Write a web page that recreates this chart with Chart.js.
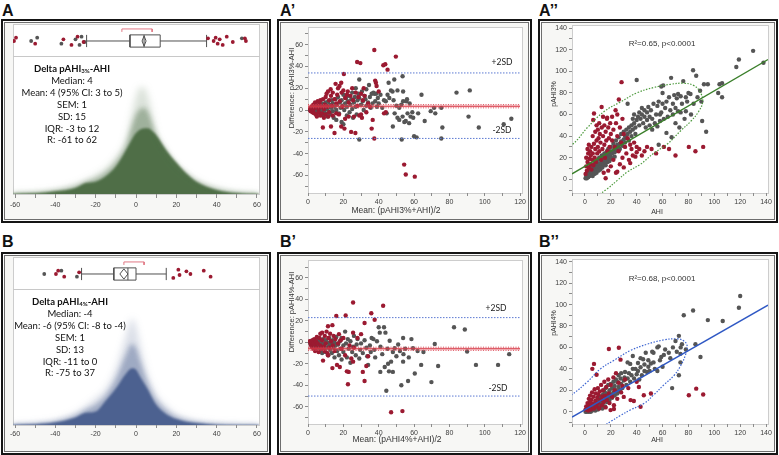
<!DOCTYPE html>
<html>
<head>
<meta charset="utf-8">
<script src="https://cdn.jsdelivr.net/npm/chart.js@4.4.1/dist/chart.umd.min.js"></script>
<style>
body{margin:0;width:779px;height:455px;position:relative;overflow:hidden;background:#fff;font-family:"Liberation Sans",Arial,sans-serif;color:#222;}
.panel{position:absolute;box-sizing:border-box;border:2px solid #151515;background:#f7f7f5;box-shadow:inset 0 0 0 1px #fdfdfd,inset 0 0 0 2px #6e6e6e;}
.plot{position:absolute;box-sizing:border-box;border:1px solid #cdcdcd;background:#fff;}
.rule{position:absolute;height:1px;background:#c8c8c8;}
canvas{position:absolute;z-index:1;}
.lbl{position:absolute;z-index:2;font:bold 16px/16px "Liberation Sans",Arial,sans-serif;color:#111;white-space:nowrap;}
.c,.r{position:absolute;z-index:2;white-space:nowrap;color:#333;font-family:"Liberation Sans",Arial,sans-serif;}
.c{transform:translate(-50%,-50%);}
.r{transform:translate(-50%,-50%) rotate(-90deg);}
.stats{position:absolute;z-index:2;width:130px;text-align:center;font:9.5px/11.9px Lato,"Open Sans",sans-serif;color:#111;}
.stats sub{font-size:6px;line-height:0;vertical-align:-1px;}
.sd{font-family:Lato,"Open Sans",sans-serif;font-size:8.5px;color:#222;}
</style>
</head>
<body>

<div class="lbl" style="left:2px;top:3px">A</div>
<div class="lbl" style="left:280px;top:3px">A’</div>
<div class="lbl" style="left:539px;top:3px">A’’</div>
<div class="lbl" style="left:2px;top:234px">B</div>
<div class="lbl" style="left:280px;top:234px">B’</div>
<div class="lbl" style="left:539px;top:234px">B’’</div>

<div class="panel" style="left:1px;top:19px;width:270px;height:204px"></div>
<div class="panel" style="left:277px;top:19px;width:255px;height:204px"></div>
<div class="panel" style="left:538px;top:19px;width:240px;height:204px"></div>
<div class="panel" style="left:1px;top:252px;width:270px;height:203px"></div>
<div class="panel" style="left:277px;top:252px;width:255px;height:203px"></div>
<div class="panel" style="left:538px;top:252px;width:240px;height:203px"></div>

<div class="plot" style="left:13px;top:24px;width:247px;height:171px"></div>
<div class="rule" style="left:13px;top:56px;width:247px"></div>
<div class="plot" style="left:308px;top:27px;width:215px;height:167px"></div>
<div class="plot" style="left:572px;top:25px;width:197px;height:169px"></div>
<div class="plot" style="left:13px;top:257px;width:247px;height:169px"></div>
<div class="rule" style="left:13px;top:289px;width:247px"></div>
<div class="plot" style="left:308px;top:260px;width:215px;height:165px"></div>
<div class="plot" style="left:572px;top:259px;width:197px;height:166px"></div>

<div class="stats" style="left:7px;top:63px">
<b>Delta pAHI<sub>3%</sub>-AHI</b><br>Median: 4<br>Mean: 4 (95% CI: 3 to 5)<br>SEM: 1<br>SD: 15<br>IQR: -3 to 12<br>R: -61 to 62
</div>
<div class="stats" style="left:5px;top:296px">
<b>Delta pAHI<sub>4%</sub>-AHI</b><br>Median: -4<br>Mean: -6 (95% CI: -8 to -4)<br>SEM: 1<br>SD: 13<br>IQR: -11 to 0<br>R: -75 to 37
</div>

<div class="c" style="left:396px;top:210px;font-size:8.5px">Mean: (pAHI3%+AHI)/2</div>
<div class="r" style="left:291px;top:88px;font-size:7.5px">Difference: pAHI3%-AHI</div>
<div class="c sd" style="left:502px;top:62px">+2SD</div>
<div class="c sd" style="left:502px;top:130px">-2SD</div>
<div class="c" style="left:657px;top:211px;font-size:7px">AHI</div>
<div class="r" style="left:553px;top:94px;font-size:7px">pAHI3%</div>
<div class="c" style="left:662px;top:43px;font-size:8px">R²=0.65, p&lt;0.0001</div>

<div class="c" style="left:397px;top:439px;font-size:8.5px">Mean: (pAHI4%+AHI)/2</div>
<div class="r" style="left:291px;top:312px;font-size:7.5px">Difference: pAHI4%-AHI</div>
<div class="c sd" style="left:496px;top:308px">+2SD</div>
<div class="c sd" style="left:498px;top:388px">-2SD</div>
<div class="c" style="left:657px;top:439px;font-size:7px">AHI</div>
<div class="r" style="left:553px;top:323px;font-size:7px">pAHI4%</div>
<div class="c" style="left:662px;top:278px;font-size:8px">R²=0.68, p&lt;0.0001</div>

<script>
// density of the differences (relative height), panels A and B
const densX = [-61, -50, -40, -30, -25, -20, -15, -10, -5, -2, 0, 2, 4, 6, 8, 10, 15, 20, 25, 30, 40, 50, 61];
const densA_outer = [0.006, 0.012, 0.03, 0.07, 0.10, 0.14, 0.19, 0.27, 0.40, 0.59, 0.71, 0.78, 0.78, 0.71, 0.59, 0.45, 0.31, 0.21, 0.15, 0.10, 0.044, 0.015, 0.004];
const densA_mid = [0.004, 0.009, 0.025, 0.057, 0.09, 0.115, 0.16, 0.235, 0.36, 0.50, 0.58, 0.62, 0.63, 0.60, 0.52, 0.44, 0.315, 0.22, 0.15, 0.095, 0.037, 0.011, 0.002];
const densA_core = [0.002, 0.005, 0.02, 0.044, 0.08, 0.09, 0.13, 0.20, 0.32, 0.40, 0.445, 0.47, 0.48, 0.48, 0.46, 0.43, 0.32, 0.23, 0.15, 0.09, 0.03, 0.007, 0];
const densB_outer = [0.006, 0.015, 0.036, 0.09, 0.14, 0.20, 0.27, 0.42, 0.66, 0.79, 0.73, 0.60, 0.47, 0.36, 0.29, 0.225, 0.14, 0.08, 0.05, 0.03, 0.012, 0.005, 0];
const densB_mid = [0.004, 0.01, 0.028, 0.072, 0.115, 0.15, 0.22, 0.34, 0.52, 0.60, 0.57, 0.48, 0.39, 0.31, 0.245, 0.19, 0.11, 0.062, 0.037, 0.022, 0.007, 0.002, 0];
const densB_core = [0.002, 0.006, 0.02, 0.056, 0.09, 0.10, 0.18, 0.27, 0.38, 0.42, 0.41, 0.36, 0.31, 0.26, 0.20, 0.15, 0.08, 0.044, 0.025, 0.015, 0.002, 0, 0];

// box plots: whisker low, Q1, median, Q3, whisker high / mean CI / shortest half / outliers
const boxA = [-24.5, -3, 4, 12, 35];
const meanA = [3, 4, 5];
const halfA = [-7, 8];
const stripAGray = [-52, -49, -37, -30, -28, -27, -25.5, 52.5];
const stripARed = [-60.5, -59.5, -50, -36, -32, -29, -26, 35.7, 38.5, 39.5, 40.5, 41.5, 43, 45, 48, 54, 54.5];
const boxB = [-27, -11, -4, 0, 15];
const meanB = [-8, -6, -4];
const halfB = [-6, 4];
const stripBGray = [-45.5, -37, -29.3];
const stripBRed = [-39.7, -38.6, -35.6, -28.2, 18.5, 21, 21.6, 25, 27, 33.6, 37];

// Bland-Altman: limits [-2SD, +2SD], bias [CI low, mean, CI high]
const limitsA = [-26, 34];
const biasA = [2, 3.5, 5];
const limitsB = [-50, 23];
const biasB = [-7.5, -6, -4.5];

const baGrayA = [[1,0],[1.5,1],[2,-1],[2,2],[2.5,0],[3,1],[3,-2],[3.5,3],[4,0],[4,-3],[4.5,2],[5,-1],[5,4],[5.5,1],[6,-2],[6,3],[6.5,0],[7,-4],[7,5],[7.5,2],[8,-1],[8,6],[8.5,-5],[9,3],[9.5,0],[10,-3],[10,7],[10.5,4],[11,-6],[11,1],[11.5,8],[12,-2],[12,5],[12.5,-4],[13,2],[13.5,9],[14,-1],[14,6],[14.5,-7],[15,3],[15.5,10],[16,0],[16,-9],[16.5,5],[17,12],[17.5,-3],[18,7],[18.5,2],[19,-11],[19,9],[19.5,4],[20,-13],[20,14],[20.5,0],[21,6],[21.5,11],[22,-5],[22,3],[22.5,8],[23,13],[23.5,-2],[24,5],[24.5,10],[25,1],[25,16],[25.5,-7],[26,7],[26.5,12],[27,3],[27,20],[27.5,-4],[28,9],[28.5,15],[29,28],[29,-27],[29,11],[30,5],[30.5,17],[31,8],[31.5,0],[32,13],[32.5,10],[33,4],[33,19],[34,7],[34.5,23],[35,12],[35.5,2],[36,15],[36.5,6],[37,16],[37.5,15],[38,8],[38.5,15],[39,3],[39.5,11],[40,6],[41,14],[42,2],[43,9],[44,8],[44.5,-3],[45,14],[45.6,25],[46,11],[46.9,18],[47.8,17],[48,-15],[48.4,9],[48.8,28],[49,-3],[50,4],[50.6,18],[50.6,-7],[51.6,-9],[51.6,2],[52.8,5],[53,-27],[53.5,31],[53.5,-6],[53.8,8],[53.8,17],[54.5,-11],[55.3,-10],[55.6,8],[56,10],[56.3,-3],[57.2,-12],[57.5,6],[58,-6],[59,-2],[59.5,-7],[60,-24],[61.4,-25],[62.3,-3],[64.2,14],[66,-10],[69.4,-1],[71.3,2],[72,-3],[75.4,2],[75.4,-26],[76,-16],[84,16],[90.8,-6],[91.5,18],[96.6,-16],[110.7,-13],[115,-8]];
const baRedA = [[1,1],[1.5,-1],[2,3],[2.5,-2],[3,0],[3,5],[3.5,-3],[4,2],[4,7],[4.5,-4],[5,4],[5,-6],[5.5,8],[6,1],[6,-2],[6.5,6],[7,-5],[7,9],[7.5,3],[8,-3],[8.4,-16],[8.5,10],[9,1],[9,-7],[9.5,5],[10,12],[10,-4],[10.5,15],[11,3],[11.3,17],[11.5,-6],[12,9],[12,-2],[12.8,19],[13,-15],[13,13],[13.5,4],[14,16],[14,-5],[15,-21],[15,10],[15.6,24],[16,6],[16,-3],[16.5,14],[17,20],[17.5,-4],[17.8,22],[18,8],[18.8,25],[18.8,-15],[19,16],[19.5,3],[20,18],[20.3,33],[20.6,-17],[21,11],[21,-8],[22,14],[22.5,17],[23,7],[23,-6],[24,13],[24.4,-20],[25,20],[25.5,9],[26,-6],[26.8,-21],[27,16],[27.8,44],[28,4],[28.5,12],[29,-5],[29.6,43],[30,-4],[30,15],[30.5,-7],[31,9],[31.5,20],[32,13],[33,-2],[34,6],[35,3],[36,-17],[36.6,-9],[37.5,55],[37.5,-26],[38,27],[38.4,25],[38.8,22],[40,17],[42.6,41],[43,-3],[43.7,42],[44,-2],[45,37],[49.7,49],[54.4,-50],[55.3,-59],[60.4,-61]];

const baGrayB = [[1,0],[1.5,-1],[2,1],[2.5,-2],[3,0],[3,-4],[3.5,2],[4,-1],[4,-6],[4.5,1],[5,-3],[5.5,0],[6,-5],[6,2],[6.5,-2],[7,-8],[7,1],[7.5,-4],[8,-1],[8,-10],[8.5,3],[9,-6],[9.5,-2],[10,-9],[10,2],[10.5,-5],[11,0],[11.5,-12],[12,-3],[12,4],[12.5,-7],[13,-1],[13.5,-10],[14,2],[14.5,-5],[15,-14],[15,0],[15.5,-3],[16,5],[16.5,-8],[17,-2],[17.5,-12],[18,1],[18.5,-6],[19,-16],[19,4],[20,-3],[20,-9],[21,10],[21.5,-1],[22,-14],[22.5,3],[23,-6],[24,-19],[24,1],[25,-9],[25.5,-4],[26,6],[27,-12],[27.5,-2],[28,3],[29,-15],[29.5,-7],[30,-1],[31,-10],[32,2],[33,-5],[33.5,-13],[34,-21],[35,-3],[35.5,-9],[36,4],[37,3],[37.5,-7],[38,-14],[39,1],[40,14],[40.6,9],[40.9,-27.5],[41,-4],[42,-11],[43,14],[43.4,-23],[43.8,9],[44.3,-45],[45,-6],[45.3,-20],[45.8,-27],[46.2,1.5],[47,-18],[48,-27.5],[48,-9],[49,-5.5],[50,-13],[51,-2],[52,-8],[52.8,-40],[53.8,4],[53.8,-18],[54,-11],[55,-6],[56.6,-36],[57,-14],[58.5,3],[59.4,-5.5],[60.4,-29],[62,-8],[64,-21],[65.3,-9],[69.8,-37],[71.7,-1.5],[73.6,-22],[82.6,14],[88.7,12],[90,-8.6],[95,-21],[107.5,-21],[113.8,-11]];
const baRedB = [[1,1],[1.5,-2],[2,0],[2,-4],[2.5,2],[3,-1],[3,-6],[3.5,3],[4,-2],[4,-8],[4.5,1],[5,-5],[5,5],[5.5,-1],[6,-9],[6.5,4],[7,-3],[7,8],[7.5,-6],[8,2],[8,9],[8.5,-17],[9,-4],[9.4,-8],[9.5,6],[10,-1],[10.5,10],[11,-10],[11.3,15],[11.3,-12],[11.5,4],[12,-5],[12.5,8],[13,1],[13.8,16],[13.8,-24],[14,-3],[14.5,6],[15,-8],[15.5,3],[16,24.5],[16.4,-21],[17,-1],[17.5,7.6],[18,-23],[18.5,2],[19,-6],[20,4],[21.3,25],[21,-12],[22,-27],[22.6,-39],[23,-27.5],[23.5,-3],[24.5,-15],[25.5,37],[25.5,9],[25.5,-18],[26,-5],[28,4],[30,7.6],[31,-27.5],[32,18],[32,-36],[33,-22],[34,-13],[35.8,27],[37.7,21],[42.5,34],[47,-65],[53.4,-64]];

// pAHI vs AHI scatter, regression lines and density ellipses
const scGrayA = [[0.5,1],[1,2],[1,4],[1.5,1],[2,3],[2,6],[2.5,2],[3,5],[3,8],[3.5,3],[4,6],[4,10],[4.5,4],[5,7],[5,12],[5.5,5],[6,9],[6,3],[6.5,11],[7,7],[7,14],[7.5,5],[8,10],[8,16],[8.5,8],[9,12],[9,6],[9.5,15],[10,10],[10,18],[10.5,8],[11,13],[11,20],[11.5,11],[12,15],[12,9],[12.5,18],[13,13],[13,22],[13.5,11],[14,16],[14,20],[14.5,14],[15,18],[15,24],[15.5,15],[16,20],[16,13],[16.5,22],[17,18],[17,26],[17.5,16],[18,21],[18,28],[18.5,19],[19,23],[19,17],[19.5,26],[20,21],[20,30],[21,24],[21,19],[22,27],[22,33],[23,25],[23,21],[24,29],[24,36],[25,27],[25,32],[26,30],[26,39],[27,33],[27,28],[28,35],[28,42],[29,31],[30,37],[30,44],[31,34],[31,40],[32,46],[32,38],[33,42],[33,70],[34,48],[34,36],[35,44],[36,50],[36,40],[37,56],[37,46],[38,52],[38,60],[39,48],[39,42],[40,55],[40,92],[41,58],[42,62],[42,50],[43,56],[44,60],[44,66],[45,52],[46,58],[46,64],[47,48],[48,62],[48,55],[49,67],[50,50],[50,58],[51,64],[52,46],[52,56],[53,70],[54,52],[55,60],[56,68],[56,49],[57,72],[57,32],[58,54],[58,60],[59,86],[59,62],[60,70],[60,80],[60.5,87],[61,56],[62,66],[63,72],[63,43],[64,58],[65,76],[66,64],[66.6,94],[67,39],[68,70],[68,60],[69,78],[70,66],[70,52],[71,75],[72,79],[72,63],[73,48],[74,77],[74,62],[75,70],[76,91],[77,56],[78,76],[78,63],[79,72],[80,80],[81.6,79],[82,60],[83.6,101],[84,70],[86,96],[87,76],[89,82],[90,72],[90.6,54],[92,88],[93.7,44],[95,88],[103,80],[104,88],[106,89],[106,76],[117,104],[119,111],[130,119],[138,108]];
const scRedA = [[0.5,5],[1,12],[1,20],[1.5,8],[2,16],[2,28],[2.5,24],[3,11],[3,32],[3.5,19],[4,26],[4,14],[4.5,22],[5,30],[5,9],[5.5,18],[6,40],[6,24],[6.4,55],[6.5,13],[7,61],[7,33],[7.5,20],[8,28],[8,44],[8.5,16],[9,36],[9,50],[9.5,24],[10,30],[10,46],[10.5,38],[11,26],[11,52],[11.5,42],[12,34],[12.9,67],[12.5,18],[13,48],[13.5,28],[14,40],[14,58],[14.5,6],[15,32],[15,50],[15.5,20],[16,44],[16,1],[16.5,36],[17,56],[17.2,57],[17.5,26],[18,48],[18,8],[18.5,38],[19,30],[19.5,52],[20,42],[20,12],[21,36],[21,58],[22,46],[22,18],[23,30],[23.7,64],[24,52],[24,6],[25,60],[25,40],[25,7],[26.2,74],[26,26],[27,48],[27,14],[28.3,90],[28,34],[29,56],[29,20],[30,11],[30,42],[31,30],[32,24],[33,38],[34,18],[35,15],[35,32],[36,28],[37,22],[38,34],[39,21],[40,25],[40,30],[42,28],[44,22],[46,26],[48,30],[51.5,28],[55,24],[61,30],[65,28],[70,22],[80.3,30],[85.4,26],[91.4,30]];
const regA = [[-10, 5], [141.5, 111]];
const ellA = [[-36,-30],[-44,-28],[-49,-22],[-51,-13],[-48,-4],[-42,5],[-34,14],[-24,24],[-10,32],[2,48],[15,63],[28,72],[40,80],[53,85],[66,88],[76,89],[84,87],[89,81],[91,72],[88,63],[82,54],[74,45],[64,33],[53,24],[43,14],[33,7],[25,-1],[17,-9],[8,-16],[0,-21],[-13,-26],[-26,-29],[-36,-30]];

const scGrayB = [[0.5,0],[1,1],[1.5,0],[2,2],[2.5,1],[3,0],[3,3],[3.5,1],[4,2],[4,5],[4.5,0],[5,3],[5.5,1],[6,4],[6,7],[6.5,2],[7,5],[7.5,3],[8,1],[8,8],[8.5,6],[9,3],[9.5,10],[10,5],[10,2],[10.5,8],[11,12],[11.5,4],[12,9],[12,14],[12.5,6],[13,11],[13.5,3],[14,8],[14,16],[15,10],[15,19],[15.5,5],[16,13],[16,22],[17,9],[17,17],[18,14],[18,25],[19,11],[19,20],[20,16],[20,26],[21,13],[21,22],[22,18],[22,28],[23,15],[23,24],[24,20],[24,30],[25,17],[25,27.7],[26,23],[26,34],[27,20],[27.5,31],[28,26],[28,36],[29,22],[30,29],[30.6,32],[31,37],[32,25],[33,46],[33,31],[34,36],[35,44.6],[35,28],[36,34],[37,40],[37,52],[38,31],[39,40],[40,35],[41,45.5],[41,38],[42,30],[43,41.5],[43,50],[44,34],[45,49],[46,44],[46,38],[47,55],[48,37],[49,48],[49,42],[50,38],[51,45],[52,56],[53,55],[53,46],[54,40],[56,38],[56,60],[57,61],[58,48],[59,51],[60,42],[61,53],[62,58],[64.8,55],[66,50],[67.4,22],[68,60],[70,66],[71,56],[72.6,70.8],[72.6,34],[73.8,46],[73.8,54],[74,60],[75,63],[76.4,90],[78,58],[83.6,94.5],[85.4,63],[89.3,51],[95,85.5],[106.5,84.6],[119,97],[120,108]];
const scRedB = [[0.5,2],[1,5],[1.5,3],[2,8],[2.5,1],[3,12],[3,6],[3.5,4],[4,15],[4,9],[4.5,2],[5,11],[5.5,18],[5.7,40],[6,7],[6.5,14],[7,44.6],[7,3],[7.5,21],[8,10],[8.5,17],[9,34.5],[9,5],[9.5,13],[10,22],[10,8],[10.5,16],[11,3],[11.5,19],[12,11],[12.5,25],[13,6],[13.5,14],[14,20],[14.5,9],[15,28],[15.5,15],[16,4],[16.5,23],[17,11],[18,30],[18.5,58.5],[18.5,17],[19,8],[19.8,1.5],[20,25],[21,14],[22,32],[22.4,6],[22.4,2.5],[23,20],[24,36],[25,12],[26.2,59.7],[26,27],[27.5,48.6],[28,18],[29,24],[30,13.8],[31,30],[33.5,22],[35.3,10.8],[37.8,10],[40,28],[41.7,23],[43,4.6],[45.5,15.4],[51,17],[80.3,15.4],[86,21.5],[91.4,16]];
const regB = [[-10, -5], [141.5, 99.5]];
const ellB = [[-21.5,-24],[-28.7,-17.5],[-28,-10],[-24,1],[-19,10],[-10,16],[2,28],[12,40],[22.5,48],[35,57],[48,63],[61,67],[71.5,68],[76.5,66],[79,61.5],[78,54],[74,43],[69,34],[61,25],[53,15.5],[46,8],[35,1.5],[27.5,-3.5],[20,-9],[14.6,-13],[2,-19],[-11,-23],[-21.5,-24]];


const FONT = '"Liberation Sans", Arial, sans-serif';
const GRAY = '#555555';
const RED = '#9b1a31';

Chart.defaults.font.family = FONT;
Chart.defaults.animation = false;
Chart.defaults.events = [];
Chart.defaults.plugins.legend.display = false;
Chart.defaults.plugins.tooltip.enabled = false;

// blur the faded layers of the density: must run before the filler draws them
const softEdge = {
    id: 'softEdge',
    beforeDatasetDraw(chart, args) {
        chart.ctx.save();
        const blur = chart.data.datasets[args.index].blur;
        if (blur) chart.ctx.filter = 'blur(' + blur + 'px)';
    },
    afterDatasetDraw(chart) {
        chart.ctx.restore();
    }
};
const filler = Chart.registry.plugins.get('filler');
Chart.unregister(filler);
Chart.register(softEdge, filler);


const makeCanvas = (x, y, w, h) => {
    const c = document.createElement('canvas');
    c.width = w;
    c.height = h;
    c.style.left = x + 'px';
    c.style.top = y + 'px';
    document.body.appendChild(c);
    return c;
};

const toXY = (pts) => pts.map(([x, y]) => ({ x, y }));

const dots = (pts, color, r) => ({
    data: toXY(pts), pointRadius: r || 2.2, pointBackgroundColor: color,
    pointBorderWidth: 0, showLine: false
});

const path = (pts, color, dash, width) => ({
    data: toXY(pts), showLine: true, pointRadius: 0, borderColor: color,
    borderWidth: width || 1, borderDash: dash || [], fill: false, tension: 0
});

const axis = ([min, max, step, every], pos, size, tick, pad) => ({
    type: 'linear', position: pos === 'x' ? 'bottom' : 'left', min, max,
    border: { display: false },
    grid: { drawOnChartArea: false, tickLength: tick || 3, color: '#8c8c8c' },
    ticks: {
        stepSize: step, includeBounds: false, autoSkip: false, maxRotation: 0,
        padding: pad || 2, color: '#3c3c3c', font: { size: 7, family: FONT },
        callback: (v) => (Math.abs(v % every) < 1e-9 ? String(v) : '')
    },
    afterFit: (s) => { if (pos === 'x') s.height = size; else s.width = size; }
});


const drawStrip = (top, box, mci, half, grayOut, redOut) => {

    const cv = makeCanvas(13, top, 246, 33);
    const yc = 0.485, lo = 0.30, hi = 0.67;
    const jig = [0, 0.1, -0.08, 0.05, -0.12, 0.13, -0.03, 0.08];
    const spot = (arr) => arr.map((v, i) => [v, yc + jig[i % jig.length]]);
    const [wl, q1, md, q3, wh] = box;
    const ink = '#505050';

    new Chart(cv, {
        type: 'scatter',
        data: {
            datasets: [
                dots(spot(redOut), RED, 1.9),
                dots(spot(grayOut), GRAY, 1.9),
                path([[half[0], 0.76], [half[0], 0.85], [half[1], 0.85], [half[1], 0.76]], '#e07884'),
                path([[mci[0], yc], [mci[1], hi - 0.03], [mci[2], yc], [mci[1], lo + 0.03], [mci[0], yc]], ink),
                path([[md, lo], [md, hi]], ink),
                path([[q1, lo], [q3, lo], [q3, hi], [q1, hi], [q1, lo]], ink),
                path([[wl, yc], [q1, yc]], ink),
                path([[q3, yc], [wh, yc]], ink),
                path([[wl, lo], [wl, hi]], ink),
                path([[wh, lo], [wh, hi]], ink)
            ]
        },
        options: {
            responsive: false,
            layout: { autoPadding: false, padding: 0 },
            scales: {
                x: { type: 'linear', display: false, min: -61, max: 61 },
                y: { display: false, min: 0, max: 1 }
            }
        }
    });
};


// top of the density area, its baseline, and where the canvas ends
const drawDensity = ([top, base, bottom, tick, pad], layers, rgb) => {

    const cv = makeCanvas(4, top, 264, bottom - top);

    new Chart(cv, {
        type: 'line',
        data: {
            datasets: layers.map(([vals, alpha, blur]) => ({
                data: densX.map((x, i) => ({ x, y: vals[i] })),
                fill: { value: -0.1 },
                backgroundColor: 'rgba(' + rgb + ',' + alpha + ')',
                borderColor: 'transparent', borderWidth: 0, pointRadius: 0,
                cubicInterpolationMode: 'monotone', blur
            }))
        },
        options: {
            responsive: false,
            layout: { autoPadding: false, padding: { left: 9, top: 0, right: 9, bottom: 0 } },
            scales: {
                x: axis([-61, 61, 10, 20], 'x', bottom - base, tick, pad),
                y: { display: false, min: 0, max: 1 }
            }
        }
    });
};


const drawScatter = (box, area, xr, yr, datasets) => {

    const [cx, cy, cw, ch] = box;
    const cv = makeCanvas(cx, cy, cw, ch);

    new Chart(cv, {
        type: 'scatter',
        data: { datasets },
        options: {
            responsive: false,
            layout: {
                autoPadding: false,
                padding: { left: 0, top: area[1] - cy, right: cx + cw - area[2], bottom: 0 }
            },
            scales: {
                x: axis(xr, 'x', cy + ch - area[3], 3, 2),
                y: axis(yr, 'y', area[0] - cx, 3, 2)
            }
        }
    });
};


const blandAltman = (limits, bias, redPts, grayPts) => {

    const blue = '#5b79d2';
    const band = path([[0, bias[2]], [120, bias[2]]], 'rgba(215,60,72,0.85)', [1, 1.5]);
    band.fill = '+1';
    band.backgroundColor = 'rgba(236,120,130,0.28)';

    return [
        path([[0, bias[1]], [120, bias[1]]], '#d5323f', [], 1),
        band,
        path([[0, bias[0]], [120, bias[0]]], 'rgba(215,60,72,0.85)', [1, 1.5]),
        path([[0, limits[1]], [120, limits[1]]], blue, [1.5, 1.5]),
        path([[0, limits[0]], [120, limits[0]]], blue, [1.5, 1.5]),
        dots(redPts, RED),
        dots(grayPts, GRAY)
    ];
};


const correlation = (reg, ell, lineColor, ellColor, redPts, grayPts) => {

    const ring = path(ell, ellColor, [1.5, 1.5], 1.2);
    ring.tension = 0.4;

    return [
        path(reg, lineColor, [], 1.4),
        ring,
        dots(redPts, RED),
        dots(grayPts, GRAY)
    ];
};


const GREEN = [[densA_outer, 0.2, 3.5], [densA_mid, 0.42, 2.6], [densA_core, 0.97, 1.2]];
const BLUE = [[densB_outer, 0.2, 3.5], [densB_mid, 0.42, 2.6], [densB_core, 0.97, 1.2]];

drawStrip(24, boxA, meanA, halfA, stripAGray, stripARed);
drawDensity([57, 194, 219, 4, 3], GREEN, '77,108,68');
drawScatter([280, 22, 248, 197], [308, 27, 522, 193], [0, 120, 10, 20], [-76, 75, 10, 20],
    blandAltman(limitsA, biasA, baRedA, baGrayA));
drawScatter([541, 22, 233, 197], [572, 25, 768, 193], [-10, 141.5, 10, 20], [-12.7, 140, 10, 20],
    correlation(regA, ellA, '#3a7f2a', '#4d9a3d', scRedA, scGrayA));

drawStrip(257, boxB, meanB, halfB, stripBGray, stripBRed);
drawDensity([290, 425, 452, 3, 2], BLUE, '73,95,142');
drawScatter([280, 255, 248, 197], [308, 260, 522, 424], [0, 120, 10, 20], [-76, 75.5, 10, 20],
    blandAltman(limitsB, biasB, baRedB, baGrayB));
drawScatter([541, 255, 233, 197], [572, 259, 768, 424], [-10, 141.5, 10, 20], [-11.5, 140.5, 10, 20],
    correlation(regB, ellB, '#2f58c4', '#3e66d2', scRedB, scGrayB));
</script>
</body>
</html>
